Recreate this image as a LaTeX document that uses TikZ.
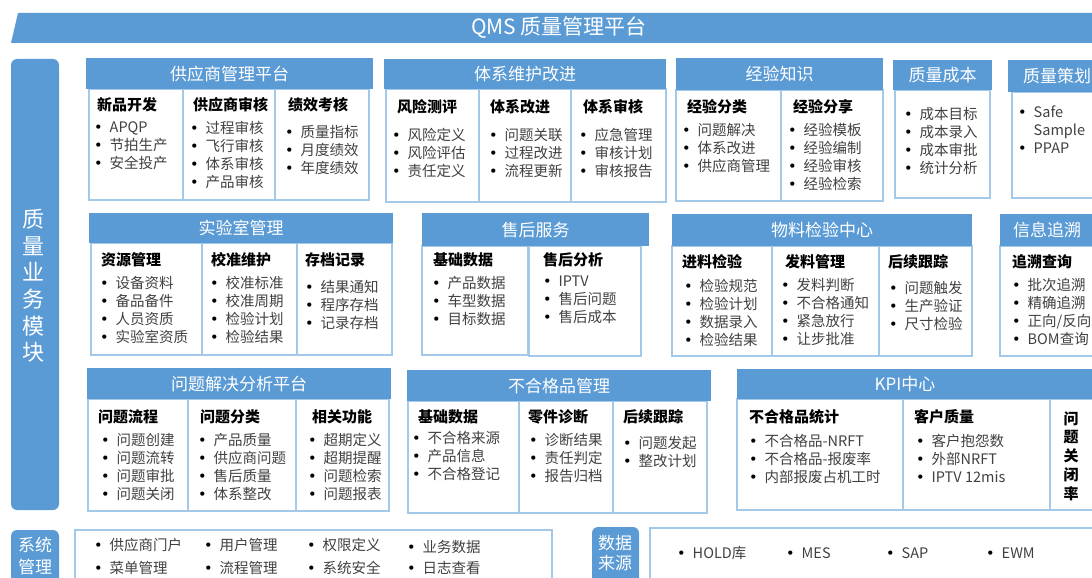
\documentclass[tikz,border=0pt]{standalone}
\usepackage{fontspec}
\setmainfont{Noto Sans CJK SC}
\newfontfamily\bulfont{DejaVu Sans}
\definecolor{qblue}{HTML}{5B9BD5}
\definecolor{qline}{HTML}{A4C8E8}
\definecolor{qgray}{HTML}{404040}
\newcommand{\bul}{\makebox[14.5pt][l]{\hspace*{-1pt}{\bulfont\color{black}•}}}
\newcommand{\nobul}{\makebox[14.5pt][l]{}}

\tikzset{
  hdr/.style={fill=qblue, text=white, inner sep=0pt, anchor=north west, font=\fontsize{17}{20}\selectfont},
  hdrtxt/.style={text=white, inner sep=0pt, font=\fontsize{17}{20}\selectfont},
  colbox/.style={draw=qline, line width=1.1pt},
  sub/.style={anchor=west, inner sep=0pt, font=\fontsize{15}{18}\selectfont\bfseries},
  lst/.style={anchor=north west, inner sep=0pt, align=left, text=qgray, font=\fontsize{14.5}{18}\selectfont},
  side/.style={fill=qblue, rounded corners=6pt},
  sidetxt/.style={text=white, inner sep=0pt, align=center},
}

\begin{document}
\begin{tikzpicture}[x=1pt, y=-1pt] %QMS 平台总览
    \useasboundingbox (0,0) rectangle (1092,578);
    \clip (0,0) rectangle (1092,578);

    % 顶部标题
    \fill[qblue] (18,13) -- (1092,13) -- (1092,43) -- (11,43) -- cycle;
    \node[text=white, font=\fontsize{21}{24}\selectfont] (title) at (559,28) {QMS 质量管理平台};

    % 左侧
    \fill[side] (11,59) rectangle (59,510);
    \node[sidetxt, font=\fontsize{22}{26.6}\selectfont] (bizLbl) at (34,286) {质\\量\\业\\务\\模\\块};

    % 供应商管理平台
    \draw[colbox] (89,89) rectangle (183,200);
    \draw[colbox] (183,89) rectangle (275,200);
    \draw[colbox] (275,89) rectangle (369,200);
    \node[hdr, minimum width=287pt, minimum height=31pt] (supHd) at (86,58) {供应商管理平台};
    \node[sub] (supS1) at (97,105) {新品开发};
    \node[sub] (supS2) at (193,105) {供应商审核};
    \node[sub] (supS3) at (288,105) {绩效考核};
    \node[lst] (supL1) at (95,121) {\bul APQP\\\bul 节拍生产\\\bul 安全投产};
    \node[lst] (supL2) at (191,121) {\bul 过程审核\\\bul 飞行审核\\\bul 体系审核\\\bul 产品审核};
    \node[lst] (supL3) at (286,125) {\bul 质量指标\\\bul 月度绩效\\\bul 年度绩效};

    % 体系维护改进
    \draw[colbox] (386,89) rectangle (479,202);
    \draw[colbox] (479,89) rectangle (571,202);
    \draw[colbox] (571,89) rectangle (666,202);
    \node[hdr, minimum width=282pt, minimum height=30pt] (sysHd) at (384,59) {体系维护改进};
    \node[sub] (sysS1) at (397,107) {风险测评};
    \node[sub] (sysS2) at (490,107) {体系改进};
    \node[sub] (sysS3) at (583,107) {体系审核};
    \node[lst] (sysL1) at (393,128) {\bul 风险定义\\\bul 风险评估\\\bul 责任定义};
    \node[lst] (sysL2) at (490,128) {\bul 问题关联\\\bul 过程改进\\\bul 流程更新};
    \node[lst] (sysL3) at (580,128) {\bul 应急管理\\\bul 审核计划\\\bul 审核报告};

    % 经验知识
    \draw[colbox] (676,90) rectangle (781,201);
    \draw[colbox] (781,90) rectangle (883,201);
    \node[hdr, minimum width=207pt, minimum height=32pt] (expHd) at (676,58) {经验知识};
    \node[sub] (expS1) at (687,107) {经验分类};
    \node[sub] (expS2) at (793,107) {经验分享};
    \node[lst] (expL1) at (683,123) {\bul 问题解决\\\bul 体系改进\\\bul 供应商管理};
    \node[lst] (expL2) at (789,123) {\bul 经验模板\\\bul 经验编制\\\bul 经验审核\\\bul 经验检索};

    % 质量成本
    \draw[colbox] (895,90) rectangle (990,198);
    \node[hdr, minimum width=99pt, minimum height=30pt] (costHd) at (893,60) {质量成本};
    \node[lst] (costL) at (905,107) {\bul 成本目标\\\bul 成本录入\\\bul 成本审批\\\bul 统计分析};

    % 质量策划
    \draw[colbox] (1012,92) rectangle (1100,198);
    \fill[qblue] (1008,60) rectangle (1100,92);
    \node[hdrtxt] (planHd) at (1057,76) {质量策划};
    \node[lst] (planL) at (1019,106) {\bul Safe\\\nobul Sample\\\bul PPAP};

    % 实验室管理
    \draw[colbox] (91,243) rectangle (202,355);
    \draw[colbox] (202,243) rectangle (297,355);
    \draw[colbox] (297,243) rectangle (392,355);
    \node[hdr, minimum width=304pt, minimum height=30pt] (labHd) at (89,213) {实验室管理};
    \node[sub] (labS1) at (101,260) {资源管理};
    \node[sub] (labS2) at (211,260) {校准维护};
    \node[sub] (labS3) at (305,260) {存档记录};
    \node[lst] (labL1) at (101,276) {\bul 设备资料\\\bul 备品备件\\\bul 人员资质\\\bul 实验室资质};
    \node[lst] (labL2) at (211,276) {\bul 校准标准\\\bul 校准周期\\\bul 检验计划\\\bul 检验结果};
    \node[lst] (labL3) at (306,280) {\bul 结果通知\\\bul 程序存档\\\bul 记录存档};

    % 售后服务
    \draw[colbox] (422,246) rectangle (528,355);
    \draw[colbox] (529,246) rectangle (641,356);
    \node[hdr, minimum width=227pt, minimum height=33pt] (svcHd) at (422,213) {售后服务};
    \node[sub] (svcS1) at (433,260) {基础数据};
    \node[sub] (svcS2) at (543,260) {售后分析};
    \node[lst] (svcL1) at (433,276) {\bul 产品数据\\\bul 车型数据\\\bul 目标数据};
    \node[lst] (svcL2) at (544,276) {\bul IPTV\\\bul 售后问题\\\bul 售后成本};

    % 物料检验中心
    \draw[colbox] (672,246) rectangle (772,356);
    \draw[colbox] (772,246) rectangle (879,356);
    \draw[colbox] (879,246) rectangle (972,356);
    \node[hdr, minimum width=300pt, minimum height=32pt] (matHd) at (672,214) {物料检验中心};
    \node[sub] (matS1) at (682,262) {进料检验};
    \node[sub] (matS2) at (785,262) {发料管理};
    \node[sub] (matS3) at (888,262) {后续跟踪};
    \node[lst] (matL1) at (685,279) {\bul 检验规范\\\bul 检验计划\\\bul 数据录入\\\bul 检验结果};
    \node[lst] (matL2) at (782,278) {\bul 发料判断\\\bul 不合格通知\\\bul 紧急放行\\\bul 让步批准};
    \node[lst] (matL3) at (890,281) {\bul 问题触发\\\bul 生产验证\\\bul 尺寸检验};

    % 信息追溯
    \draw[colbox] (1000,246) rectangle (1100,356);
    \fill[qblue] (1000,214) rectangle (1100,246);
    \node[hdrtxt] (trcHd) at (1047,230) {信息追溯};
    \node[sub] (trcS1) at (1012,262) {追溯查询};
    \node[lst] (trcL1) at (1013,278) {\bul 批次追溯\\\bul 精确追溯\\\bul 正向/反向\\\bul BOM查询};

    % 问题解决分析平台
    \draw[colbox] (88,399) rectangle (188,511);
    \draw[colbox] (188,399) rectangle (296,511);
    \draw[colbox] (296,399) rectangle (389,511);
    \node[hdr, minimum width=304pt, minimum height=31pt] (prbHd) at (87,368) {问题解决分析平台};
    \node[sub] (prbS1) at (98,417) {问题流程};
    \node[sub] (prbS2) at (200,417) {问题分类};
    \node[sub] (prbS3) at (312,417) {相关功能};
    \node[lst] (prbL1) at (102,433) {\bul 问题创建\\\bul 问题流转\\\bul 问题审批\\\bul 问题关闭};
    \node[lst] (prbL2) at (199,433) {\bul 产品质量\\\bul 供应商问题\\\bul 售后质量\\\bul 体系整改};
    \node[lst] (prbL3) at (309,433) {\bul 超期定义\\\bul 超期提醒\\\bul 问题检索\\\bul 问题报表};

    % 不合格品管理
    \draw[colbox] (408,401) rectangle (519,513);
    \draw[colbox] (519,401) rectangle (613,513);
    \draw[colbox] (613,401) rectangle (707,513);
    \node[hdr, minimum width=304pt, minimum height=31pt] (ncmHd) at (407,370) {不合格品管理};
    \node[sub] (ncmS1) at (418,417) {基础数据};
    \node[sub] (ncmS2) at (528,417) {零件诊断};
    \node[sub] (ncmS3) at (623,417) {后续跟踪};
    \node[lst] (ncmL1) at (413,431) {\bul 不合格来源\\\bul 产品信息\\\bul 不合格登记};
    \node[lst] (ncmL2) at (530,433) {\bul 诊断结果\\\bul 责任判定\\\bul 报告归档};
    \node[lst] (ncmL3) at (624,436) {\bul 问题发起\\\bul 整改计划};

    % KPI中心
    \draw[colbox] (737,399) rectangle (903,510);
    \draw[colbox] (903,399) rectangle (1050,510);
    \draw[colbox] (1050,399) rectangle (1100,510);
    \fill[qblue] (737,369) rectangle (1100,399);
    \node[hdrtxt] (kpiHd) at (905,384) {KPI中心};
    \node[sub] (kpiS1) at (749,417) {不合格品统计};
    \node[sub] (kpiS2) at (914,417) {客户质量};
    \node[lst] (kpiL1) at (750,434) {\bul 不合格品-NRFT\\\bul 不合格品-报废率\\\bul 内部报废占机工时};
    \node[lst] (kpiL2) at (917,434) {\bul 客户抱怨数\\\bul 外部NRFT\\\bul IPTV 12mis};
    \node[align=center, inner sep=0pt, font=\fontsize{15}{18.7}\selectfont\bfseries] (kpiS3) at (1071,456) {问\\题\\关\\闭\\率};

    % 系统管理
    \fill[side] (11,530) rectangle (59,600);
    \node[sidetxt, font=\fontsize{17}{22}\selectfont] (admLbl) at (35,556) {系统\\管理};
    \draw[colbox] (75,530) rectangle (552,600);
    \node[lst, font=\fontsize{14.5}{23}\selectfont] (admL1) at (95,538) {\bul 供应商门户\\\bul 菜单管理};
    \node[lst, font=\fontsize{14.5}{23}\selectfont] (admL2) at (205,538) {\bul 用户管理\\\bul 流程管理};
    \node[lst, font=\fontsize{14.5}{23}\selectfont] (admL3) at (308,538) {\bul 权限定义\\\bul 系统安全};
    \node[lst, font=\fontsize{14.5}{21}\selectfont] (admL4) at (408,540) {\bul 业务数据\\\bul 日志查看};

    % 数据来源
    \fill[side] (592,527) rectangle (639,600);
    \node[sidetxt, font=\fontsize{17}{20}\selectfont] (srcLbl) at (615,553) {数据\\来源};
    \draw[colbox] (650,528) rectangle (1100,600);
    \node[lst, anchor=west] (src1) at (678,553) {\bul HOLD库};
    \node[lst, anchor=west] (src2) at (787,553) {\bul MES};
    \node[lst, anchor=west] (src3) at (887,553) {\bul SAP};
    \node[lst, anchor=west] (src4) at (987,553) {\bul EWM};
\end{tikzpicture}
\end{document}
